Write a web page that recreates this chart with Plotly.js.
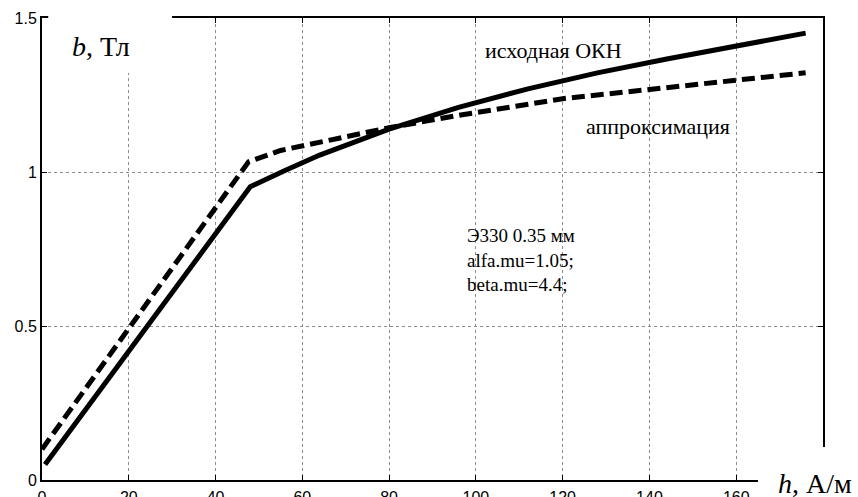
<!DOCTYPE html>
<html>
<head>
<meta charset="utf-8">
<script src="https://cdn.plot.ly/plotly-3.0.1.min.js"></script>
<style>html,body{margin:0;padding:0;background:#fff;}#chart{width:858px;height:497px;}</style>
</head>
<body>
<div id="chart"></div>
<script>
// исходная ОКН (original magnetisation curve)
const hOrig = [0.7, 48, 56, 64, 80, 96, 112, 128, 144, 160, 176];
const bOrig = [0.05, 0.952, 1.005, 1.055, 1.139, 1.21, 1.27, 1.322, 1.367, 1.41, 1.451];
// аппроксимация (approximation)
const hApprox = [0, 47.6, 55, 65, 80, 96.5, 120, 140, 160, 176];
const bApprox = [0.10, 1.033, 1.07, 1.10, 1.144, 1.185, 1.238, 1.268, 1.298, 1.322];
const xTicks = [0, 20, 40, 60, 80, 100, 120, 140, 160];
const yTicks = [0, 0.5, 1, 1.5];
const yTickText = ['0', '0.5', '1', '1.5'];
const infoLines = ['Э330 0.35 мм', 'alfa.mu=1.05;', 'beta.mu=4.4;'];

const serif = 'Liberation Serif, Times New Roman, serif';
const sans = 'Liberation Sans, Arial, sans-serif';

const traces = [
  {x: hOrig, y: bOrig, mode: 'lines', line: {color: '#000', width: 5}, showlegend: false, hoverinfo: 'skip'},
  {x: hApprox, y: bApprox, mode: 'lines', line: {color: '#000', width: 5, dash: '13px,6px'}, showlegend: false, hoverinfo: 'skip'}
];

const axisCommon = {
  showline: true, linecolor: '#000', linewidth: 2, mirror: 'ticks',
  ticks: 'inside', ticklen: 5, tickwidth: 1, tickcolor: '#000',
  showgrid: true, gridcolor: '#8c8c8c', gridwidth: 1, griddash: 'dot',
  zeroline: false, tickfont: {family: sans, size: 16, color: '#000'}
};

const layout = {
  width: 858, height: 497,
  margin: {l: 42, r: 35, t: 18, b: 17},
  paper_bgcolor: '#fff', plot_bgcolor: '#fff',
  xaxis: Object.assign({}, axisCommon, {range: [0, 180], tickvals: xTicks, ticktext: xTicks.map(String), ticklabelstandoff: 2}),
  yaxis: Object.assign({}, axisCommon, {range: [0, 1.5], tickvals: yTicks, ticktext: yTickText}),
  shapes: [
    {type: 'rect', xref: 'paper', yref: 'paper', x0: 0.008, x1: 0.1665, y0: 0.881, y1: 1.1, fillcolor: '#fff', line: {width: 0}, layer: 'above'},
    {type: 'rect', xref: 'paper', yref: 'paper', x0: 0.9168, x1: 1.1, y0: 0.0714, y1: -0.1, fillcolor: '#fff', line: {width: 0}, layer: 'above'}
  ],
  annotations: [
    {x: 13.6, y: 1.406, xref: 'x', yref: 'y', text: '<i>b</i>, Тл', showarrow: false, xanchor: 'center', yanchor: 'middle', font: {family: serif, size: 28, color: '#000'}},
    {x: (815 - 42) / 781, y: (480 - 483) / 462, xref: 'paper', yref: 'paper', text: '<i>h</i>, А/м', showarrow: false, xanchor: 'center', yanchor: 'middle', font: {family: serif, size: 28, color: '#000'}},
    {x: 117.8, y: 1.396, xref: 'x', yref: 'y', text: 'исходная ОКН', showarrow: false, xanchor: 'center', yanchor: 'middle', font: {family: serif, size: 22, color: '#000'}},
    {x: 142, y: 1.147, xref: 'x', yref: 'y', text: 'аппроксимация', showarrow: false, xanchor: 'center', yanchor: 'middle', font: {family: serif, size: 22, color: '#000'}},
    {x: 97.5, y: 0.714, xref: 'x', yref: 'y', text: infoLines.join('<br>'), showarrow: false, align: 'left', xanchor: 'left', yanchor: 'middle', font: {family: serif, size: 19, color: '#000'}}
  ]
};

Plotly.newPlot('chart', traces, layout, {staticPlot: true, displayModeBar: false});
</script>
</body>
</html>
